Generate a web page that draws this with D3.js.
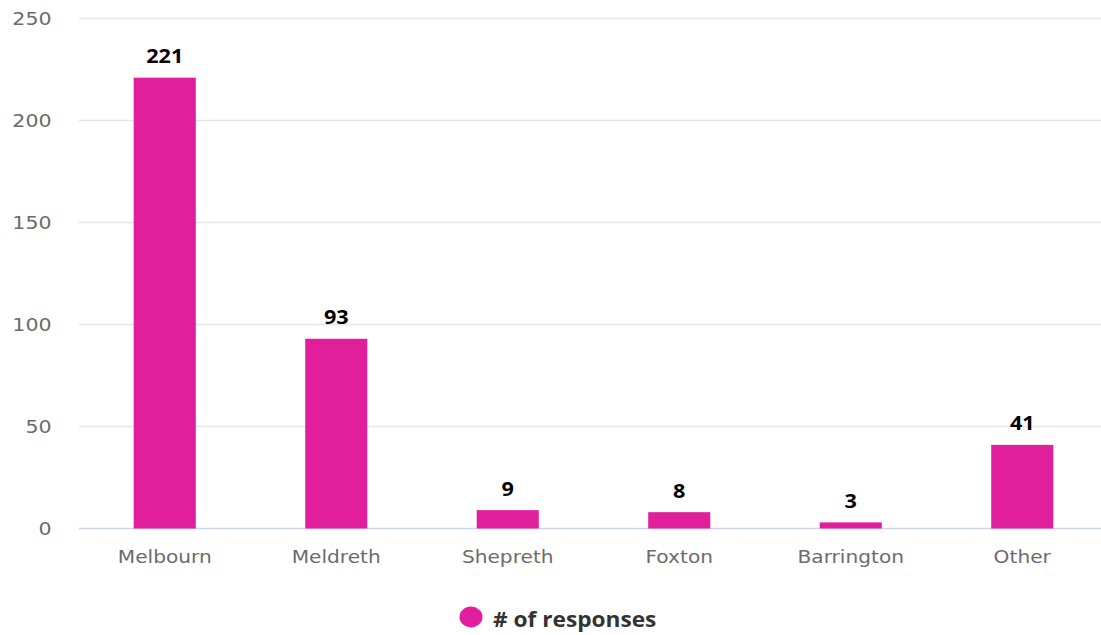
<!DOCTYPE html>
<html>
<head>
<meta charset="utf-8">
<script src="https://cdn.jsdelivr.net/npm/d3@7"></script>
<style>
  html, body { margin: 0; padding: 0; background: #ffffff; }
  svg { display: block; }
</style>
</head>
<body>
<svg id="chart" width="1101" height="635"></svg>
<script>
// Responses by village
const categories = ["Melbourn", "Meldreth", "Shepreth", "Foxton", "Barrington", "Other"];
const responses = [221, 93, 9, 8, 3, 41];
const yTicks = [0, 50, 100, 150, 200, 250];
const seriesName = "# of responses";

const W = 1101, H = 635;
const plot = { left: 79, right: 1108, top: 18.5, bottom: 528.5 };
const barColor = "#e11f9c";
const axisFont = "'DejaVu Sans', Verdana, sans-serif";
const labelFont = "'Open Sans', sans-serif";
const stretch = 1.1; // glyphs are drawn slightly wide

const svg = d3.select("#chart");

const x = d3.scaleBand()
  .domain(categories)
  .range([plot.left, plot.right])
  .paddingInner(0)
  .paddingOuter(0);

const y = d3.scaleLinear()
  .domain([0, 250])
  .range([plot.bottom, plot.top]);

// Horizontal grid lines
svg.append("g")
  .selectAll("line")
  .data(yTicks)
  .join("line")
  .attr("x1", plot.left)
  .attr("x2", W)
  .attr("y1", d => y(d))
  .attr("y2", d => y(d))
  .attr("stroke", d => d === 0 ? "#ccd6eb" : "#e6e6e6")
  .attr("stroke-width", 1.5);

// Y axis labels
const yAxis = d3.axisLeft(y).tickValues(yTicks).tickSize(0).tickPadding(0);
const gy = svg.append("g")
  .attr("transform", `translate(${plot.left - 27.5},0)`)
  .call(yAxis);
gy.select(".domain").remove();
gy.selectAll("text")
  .attr("font-family", axisFont)
  .attr("font-size", 18)
  .attr("fill", "#6b6b6b")
  .attr("dy", "0.36em")
  .attr("transform", `scale(${stretch + 0.04},1)`);

// X axis labels
const xAxis = d3.axisBottom(x).tickSize(0).tickPadding(0);
const gx = svg.append("g")
  .attr("transform", `translate(0,${plot.bottom + 34})`)
  .call(xAxis);
gx.select(".domain").remove();
gx.selectAll("text")
  .attr("font-family", axisFont)
  .attr("font-size", 18.5)
  .attr("fill", "#6b6b6b")
  .attr("dy", 0)
  .attr("transform", `scale(${stretch - 0.01},1)`);

const rows = categories.map((c, i) => ({ c, v: responses[i] }));

// Bars
const barW = x.bandwidth() * 0.362;
svg.append("g")
  .selectAll("rect")
  .data(rows)
  .join("rect")
  .attr("x", d => x(d.c) + x.bandwidth() / 2 - barW / 2)
  .attr("y", d => y(d.v))
  .attr("width", barW)
  .attr("height", d => y(0) - y(d.v))
  .attr("fill", barColor);

// Value labels
svg.append("g")
  .selectAll("text")
  .data(rows)
  .join("text")
  .attr("transform", d => `translate(${x(d.c) + x.bandwidth() / 2},${y(d.v) - 14.5}) scale(1.08,1)`)
  .attr("text-anchor", "middle")
  .attr("font-family", labelFont)
  .attr("font-size", 20)
  .attr("font-weight", 700)
  .attr("fill", "#000000")
  .text(d => d.v);

// Legend
const legend = svg.append("g").attr("transform", "translate(471,617)");
legend.append("ellipse").attr("rx", 11.5).attr("ry", 10.4).attr("fill", barColor);
legend.append("text")
  .attr("transform", "translate(22,9.5) scale(1.08,1)")
  .attr("font-family", labelFont)
  .attr("font-size", 21)
  .attr("font-weight", 700)
  .attr("fill", "#333333")
  .text(seriesName);
</script>
</body>
</html>
